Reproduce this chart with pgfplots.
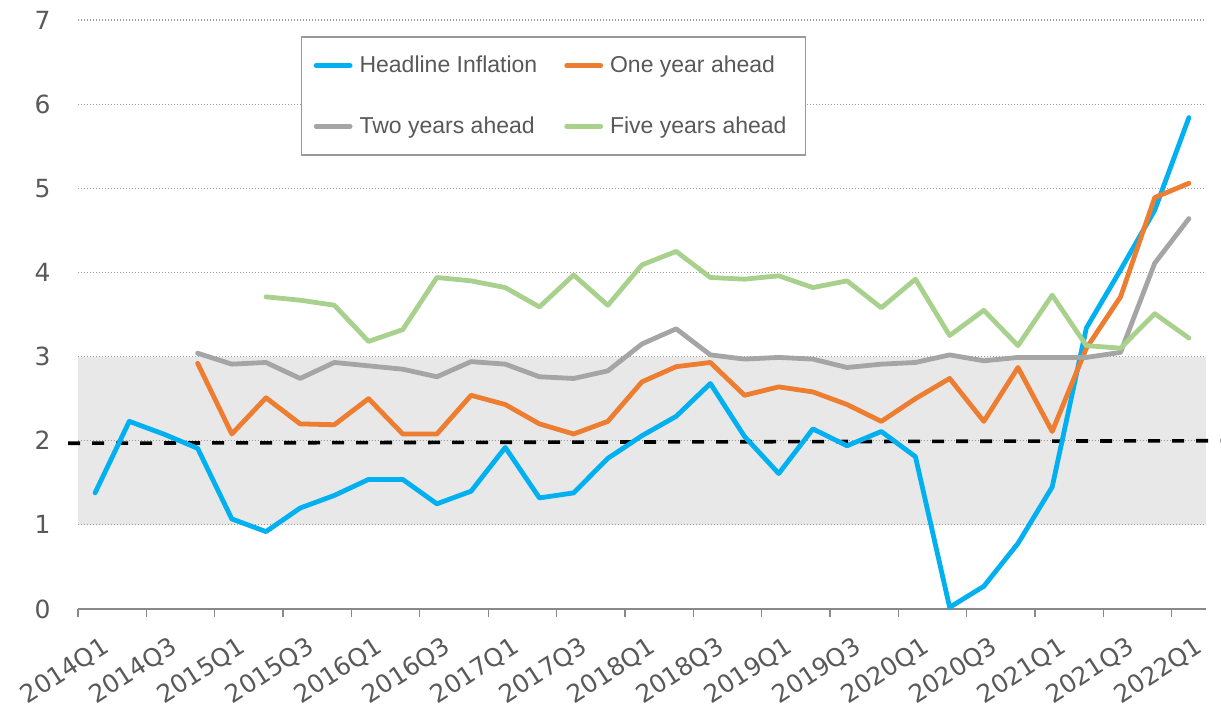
\documentclass[border=0pt]{standalone}
\usepackage{pgfplots}
\pgfplotsset{compat=1.18}
\usepackage{fontspec}
\setmainfont{Liberation Sans}
\newfontfamily\tickfont{DejaVu Sans}
\definecolor{cblue}{HTML}{00B0F0}
\definecolor{corange}{HTML}{ED7D31}
\definecolor{cgray}{HTML}{A5A5A5}
\definecolor{cgreen}{HTML}{A9D18E}
\definecolor{textgray}{HTML}{595959}
\definecolor{axisgray}{HTML}{898989}
\definecolor{gridgray}{HTML}{9A9A9A}
\definecolor{bandgray}{HTML}{E8E8E8}
\definecolor{legendgray}{HTML}{999999}
\begin{document}
\begin{tikzpicture}
\begin{axis}[
  set layers,
  at={(0,0)}, anchor=south west,
  width=564pt, height=294.5pt, scale only axis,
  xmin=-0.5, xmax=32.5, ymin=0, ymax=7,
  clip=false,
  axis x line*=bottom, axis y line*=left,
  x axis line style={draw=axisgray, line width=0.75pt, -},
  y axis line style={draw=none},
  ytick={0,1,2,3,4,5,6,7},
  ytick style={draw=none},
  /pgf/number format/assume math mode=true,
  yticklabel style={font=\tickfont\fontsize{12.5}{15}\selectfont, text=textgray, xshift=-6.2pt},
  ymajorgrids,
  grid style={draw=gridgray, line width=0.6pt, dash pattern=on 0.7pt off 0.8pt},
  xtick={-0.5,1.5,...,31.5},
  xticklabels={},
  tick align=outside,
  major tick length=4pt,
  xtick style={draw=axisgray, line width=0.6pt},
  extra x ticks={0,2,...,32},
  extra x tick labels={2014Q1,2014Q3,2015Q1,2015Q3,2016Q1,2016Q3,2017Q1,2017Q3,2018Q1,2018Q3,2019Q1,2019Q3,2020Q1,2020Q3,2021Q1,2021Q3,2022Q1},
  extra x tick style={major tick length=0pt, tick style={draw=none}, grid=none},
  xticklabel style={font=\tickfont\fontsize{12.4}{14}\selectfont, text=textgray, rotate=33, anchor=north east, xshift=-1.5pt, yshift=-9pt},
  legend columns=2,
  legend cell align=left,
  legend style={at={(rel axis cs:0.1977,0.9728)}, anchor=north west,
    draw=legendgray, line width=0.75pt, inner xsep=6pt, inner ysep=7.5pt,
    font=\fontsize{11.5}{13.5}\selectfont, text=textgray,
    row sep=16.5pt,
    nodes={inner xsep=3.5pt, inner ysep=2pt},
    /tikz/every even column/.append style={column sep=10pt}},
  legend image code/.code={\draw[#1, line cap=round] (0pt,0pt) -- (17pt,0pt);},
  every axis plot/.append style={line width=2.4pt, line join=round, line cap=round},
]
\addplot[fill=bandgray, draw=none, on layer=axis background, forget plot] coordinates {(-0.5,1) (32.5,1) (32.5,3) (-0.5,3)} -- cycle;
\addplot[black, line width=1.8pt, line cap=butt, dash pattern=on 6pt off 6pt, forget plot] coordinates {(-0.79,1.97) (32.92,2.00)};
\addplot[cblue] coordinates {
(0,1.38) (1,2.23) (2,2.08) (3,1.91) (4,1.07) (5,0.92) (6,1.20) (7,1.35) (8,1.54) (9,1.54)
(10,1.25) (11,1.40) (12,1.92) (13,1.32) (14,1.38) (15,1.79) (16,2.06) (17,2.29) (18,2.68) (19,2.05)
(20,1.61) (21,2.14) (22,1.94) (23,2.11) (24,1.81) (25,0.02) (26,0.27) (27,0.78) (28,1.45) (29,3.34)
(30,4.03) (31,4.74) (32,5.84)};
\addlegendentry{Headline Inflation}
\addplot[corange] coordinates {
(3,2.92) (4,2.08) (5,2.51) (6,2.20) (7,2.19) (8,2.50) (9,2.08) (10,2.08) (11,2.54) (12,2.43)
(13,2.20) (14,2.08) (15,2.23) (16,2.70) (17,2.88) (18,2.93) (19,2.54) (20,2.64) (21,2.58) (22,2.43)
(23,2.23) (24,2.50) (25,2.74) (26,2.23) (27,2.87) (28,2.11) (29,3.10) (30,3.71) (31,4.89) (32,5.06)};
\addlegendentry{One year ahead}
\addplot[cgray] coordinates {
(3,3.04) (4,2.91) (5,2.93) (6,2.74) (7,2.93) (8,2.89) (9,2.85) (10,2.76) (11,2.94) (12,2.91)
(13,2.76) (14,2.74) (15,2.83) (16,3.15) (17,3.33) (18,3.02) (19,2.97) (20,2.99) (21,2.97) (22,2.87)
(23,2.91) (24,2.93) (25,3.02) (26,2.95) (27,2.99) (28,2.99) (29,2.99) (30,3.05) (31,4.11) (32,4.64)};
\addlegendentry{Two years ahead}
\addplot[cgreen] coordinates {
(5,3.71) (6,3.67) (7,3.61) (8,3.18) (9,3.32) (10,3.94) (11,3.90) (12,3.82) (13,3.59) (14,3.97)
(15,3.61) (16,4.09) (17,4.25) (18,3.94) (19,3.92) (20,3.96) (21,3.82) (22,3.90) (23,3.58) (24,3.92)
(25,3.25) (26,3.55) (27,3.13) (28,3.73) (29,3.13) (30,3.10) (31,3.51) (32,3.22)};
\addlegendentry{Five years ahead}
\end{axis}
\pgfresetboundingbox
\path[use as bounding box] (-39pt,-52pt) rectangle (571.5pt,304.5pt);
\end{tikzpicture}
\end{document}
